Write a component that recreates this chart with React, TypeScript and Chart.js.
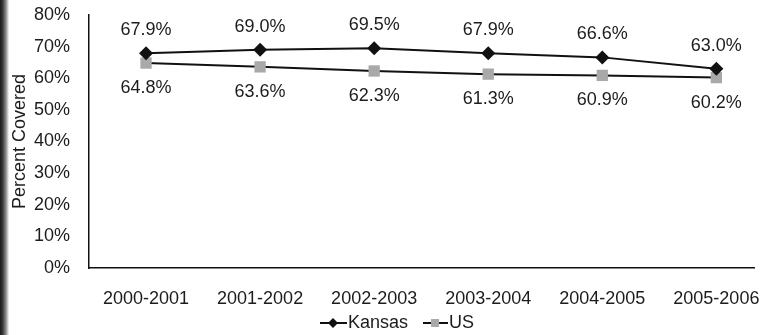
import React, { useEffect, useRef } from "react";
import { Chart, registerables } from "chart.js";

Chart.register(...registerables);

const categories = ["2000-2001", "2001-2002", "2002-2003", "2003-2004", "2004-2005", "2005-2006"];
const kansas = [67.9, 69.0, 69.5, 67.9, 66.6, 63.0];
const us = [64.8, 63.6, 62.3, 61.3, 60.9, 60.2];
const yTicks = [0, 10, 20, 30, 40, 50, 60, 70, 80];

const FONT = "'Liberation Sans', Arial, sans-serif";
const TEXT = "#1c1c1c";
const GREY = "#a9a9a9";

const labelPlugin = {
  id: "valueLabels",
  afterDatasetsDraw(chart: any) {
    const ctx = chart.ctx;
    ctx.save();
    ctx.font = `18px ${FONT}`;
    ctx.fillStyle = TEXT;
    ctx.textAlign = "center";
    ctx.textBaseline = "middle";
    chart.data.datasets.forEach((ds: any, di: number) => {
      const meta = chart.getDatasetMeta(di);
      const off = di === 0 ? -23 : 25;
      meta.data.forEach((pt: any, i: number) => {
        ctx.fillText(ds.data[i].y.toFixed(1) + "%", pt.x, pt.y + off);
      });
    });
    ctx.restore();
  },
  afterDraw(chart: any) {
    const ctx = chart.ctx;
    ctx.save();
    const y = 323;
    ctx.strokeStyle = "#111";
    ctx.lineWidth = 2;
    // Kansas
    ctx.beginPath();
    ctx.moveTo(320, y);
    ctx.lineTo(347, y);
    ctx.stroke();
    ctx.fillStyle = "#111";
    ctx.beginPath();
    ctx.moveTo(333, y - 5);
    ctx.lineTo(338, y);
    ctx.lineTo(333, y + 5);
    ctx.lineTo(328, y);
    ctx.closePath();
    ctx.fill();
    // US
    ctx.beginPath();
    ctx.moveTo(423, y);
    ctx.lineTo(448, y);
    ctx.stroke();
    ctx.fillStyle = GREY;
    ctx.fillRect(431, y - 4, 8, 8);
    ctx.font = `18px ${FONT}`;
    ctx.fillStyle = TEXT;
    ctx.textAlign = "left";
    ctx.textBaseline = "middle";
    ctx.fillText("Kansas", 348, y);
    ctx.fillText("US", 449, y);
    ctx.restore();
  },
};

export default function App() {
  const ref = useRef<HTMLCanvasElement>(null);
  useEffect(() => {
    if (!ref.current) return;
    const chart = new Chart(ref.current, {
      type: "line",
      data: {
        datasets: [
          {
            label: "Kansas",
            data: kansas.map((v, i) => ({ x: i, y: v })),
            borderColor: "#111",
            backgroundColor: "#111",
            borderWidth: 2,
            pointStyle: "rectRot",
            pointRadius: 7,
            pointBorderWidth: 0,
            tension: 0,
          },
          {
            label: "US",
            data: us.map((v, i) => ({ x: i, y: v })),
            borderColor: "#111",
            backgroundColor: GREY,
            pointBackgroundColor: GREY,
            pointBorderColor: GREY,
            borderWidth: 2,
            pointStyle: "rect",
            pointRadius: 8,
            pointBorderWidth: 0,
            tension: 0,
          },
        ],
      },
      options: {
        animation: false,
        responsive: false,
        maintainAspectRatio: false,
        layout: { padding: { top: 15, right: 0, left: 0, bottom: 0 } },
        plugins: { legend: { display: false }, tooltip: { enabled: false } },
        scales: {
          x: {
            type: "linear",
            min: -0.5,
            max: 5.33,
            grid: { display: false, drawTicks: false },
            border: { display: true, color: "#111", width: 1.5 },
            afterBuildTicks: (s: any) => {
              s.ticks = categories.map((_, i) => ({ value: i }));
            },
            afterFit: (s: any) => {
              s.height = 67;
              s.paddingRight = 0;
              s.paddingLeft = 0;
            },
            ticks: {
              padding: 20,
              autoSkip: false,
              maxRotation: 0,
              color: TEXT,
              font: { family: FONT, size: 18 },
              callback: (v: any) => categories[v as number] ?? "",
            },
          },
          y: {
            min: 0,
            max: 80,
            grid: { display: false, drawTicks: false },
            border: { display: true, color: "#111", width: 1.5 },
            afterBuildTicks: (s: any) => {
              s.ticks = yTicks.map((v) => ({ value: v }));
            },
            afterFit: (s: any) => {
              s.width = 89;
              s.paddingTop = 0;
              s.paddingBottom = 0;
            },
            title: {
              display: true,
              text: "Percent Covered",
              color: TEXT,
              font: { family: FONT, size: 18 },
              padding: { top: 9, bottom: 0 },
            },
            ticks: {
              padding: 19,
              color: TEXT,
              font: { family: FONT, size: 18 },
              callback: (v: any) => v + "%",
            },
          },
        },
      },
      plugins: [labelPlugin],
    } as any);
    return () => chart.destroy();
  }, []);
  return (
    <div style={{ position: "fixed", left: 0, top: 0, width: 762, height: 335, background: "#fff" }}>
      <canvas ref={ref} width={762} height={335} style={{ display: "block" }} />
      <div
        style={{
          position: "absolute",
          left: 0,
          top: 0,
          width: 9,
          height: 335,
          background: "linear-gradient(to right, #1a1a1a 0%, #3a3a3a 30%, #8a8a8a 65%, #d8d8d8 90%, #fff 100%)",
        }}
      />
    </div>
  );
}
